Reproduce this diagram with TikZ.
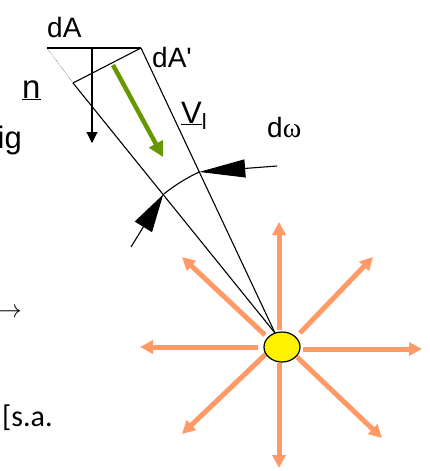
\documentclass[tikz,border=0pt]{standalone}
\usepackage{fontspec}
\setmainfont{Liberation Sans}
\newfontfamily\calfont{Carlito}
\newfontfamily\serfont{Liberation Serif}
\usetikzlibrary{arrows.meta,shapes.geometric,calc}
\definecolor{rayorange}{RGB}{255,153,102}
\definecolor{flowgreen}{RGB}{102,153,0}
\begin{document}
\begin{tikzpicture}[x=1pt,y=-1pt,
    ray/.style={rayorange,line width=5pt,-{Triangle[length=13pt,width=13pt]}},
    lbl/.style={inner sep=0pt,anchor=base west}]
    \useasboundingbox (0,0) rectangle (430,471);
    \coordinate (tl) at (47,48);
    \coordinate (tr) at (141,48);
    \coordinate (bl) at (73,83);
    \coordinate (apex) at (275,333);
    \draw[line width=1.4pt] (tl) -- (tr);
    \draw[densely dotted] (tl) -- (bl);
    \draw[line width=1.1pt] (bl) -- (tr);
    \draw[line width=1.1pt] (bl) -- (apex);
    \draw[line width=1.1pt] (tr) -- (apex);
    \draw[line width=1.1pt,-{Triangle[length=11pt,width=11pt]}] (92,48) -- (92,143);
    \draw[flowgreen,line width=4.5pt,-{Triangle[length=15pt,width=15pt]}] (113,65) -- (163,157);
    \coordinate (arcl) at ($(apex)+(231.1:178)$);
    \coordinate (arcr) at ($(apex)+(244.8:178)$);
    \draw[line width=1.1pt] (arcl) arc [start angle=231.1, end angle=244.8, radius=178];
    \coordinate (wtail) at (277,166);
    \coordinate (stail) at (131,247);
    \draw[line width=1.1pt,-{Triangle[length=46pt,width=18pt]}] (wtail) -- (arcr);
    \draw[line width=1.1pt,-{Triangle[length=38pt,width=20pt]}] (stail) -- (arcl);

    \draw[ray] (279,330) -- (279,222);
    \draw[ray] (279,363) -- (279,468);
    \draw[ray] (258,347) -- (140,347);
    \draw[ray] (303,349) -- (422,349);
    \draw[ray] (300,333) -- (373,257);
    \draw[ray] (265,335) -- (182,257);
    \draw[ray] (267,353) -- (182,434);
    \draw[ray] (297,357) -- (382,438);
    \node[ellipse,draw,line width=1.2pt,fill=yellow,minimum width=36pt,minimum height=30pt,inner sep=0pt] (src) at (282,347) {};

    \node[lbl] (dA) at (47,37) {\fontsize{28}{30}\selectfont dA};
    \node[lbl] (dAp) at (152,67) {\fontsize{28}{30}\selectfont dA\textquotesingle};
    \node[lbl] (nvec) at (22,98) {\fontsize{33}{35}\selectfont\underline{n}};
    \node[inner sep=0pt,anchor=base east] (sig) at (22,148) {\fontsize{31}{33}\selectfont ig};
    \node[lbl] (vel) at (181,123) {\fontsize{31}{33}\selectfont\underline{V}\raisebox{-6pt}{\fontsize{22}{24}\selectfont l}};
    \node[lbl] (domega) at (267,137) {\fontsize{28}{30}\selectfont d{\serfont ω}};
    \node[inner sep=0pt,anchor=east] (arr) at (22,313) {\fontsize{24}{26}\selectfont$\rightarrow$};
    \node[lbl] (sa) at (2,426) {\fontsize{30}{32}\selectfont\calfont [s.a.};
\end{tikzpicture}
\end{document}
